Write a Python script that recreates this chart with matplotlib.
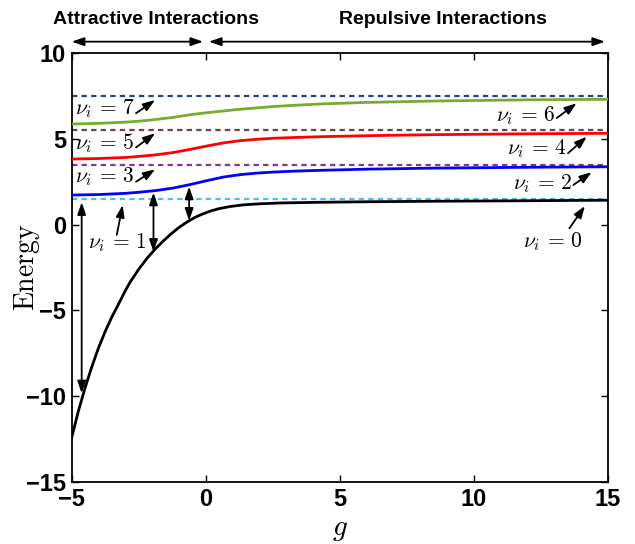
import matplotlib
matplotlib.use("Agg")
import matplotlib.pyplot as plt

plt.rcParams['mathtext.fontset'] = 'cm'

# ---- data ----
g_black = [-5.0, -4.75, -4.5, -4.25, -4.0, -3.75, -3.5, -3.25, -3.0, -2.82, -2.5, -2.2,
           -1.9, -1.6, -1.3, -1.0, -0.7, -0.4, -0.1, 0.2, 0.5, 0.9, 1.4, 2.0, 2.8,
           4.27, 6.0, 8.5, 12.0, 15.0]
E_black = [-12.4, -10.85, -9.5, -8.28, -7.18, -6.22, -5.37, -4.62, -3.85, -3.35, -2.6, -1.98,
           -1.45, -0.98, -0.55, -0.17, 0.15, 0.42, 0.63, 0.8, 0.93, 1.05, 1.15, 1.21, 1.26,
           1.30, 1.33, 1.36, 1.39, 1.42]

g_blue = [-5.0, -4.0, -3.0, -2.45, -1.83, -1.21, -0.59, 0.04, 0.66, 1.28, 1.9, 2.52, 3.4,
          4.27, 6.0, 8.5, 12.0, 15.0]
E_blue = [1.72, 1.75, 1.82, 1.89, 1.99, 2.13, 2.33, 2.56, 2.77, 2.91, 3.0, 3.06, 3.12,
          3.16, 3.23, 3.29, 3.34, 3.37]

g_red = [-5.0, -4.0, -3.0, -2.45, -1.83, -1.21, -0.59, 0.04, 0.66, 1.28, 1.9, 2.52, 3.4,
         4.27, 6.0, 8.5, 12.0, 15.0]
E_red = [3.82, 3.85, 3.91, 3.98, 4.07, 4.2, 4.38, 4.58, 4.76, 4.89, 4.97, 5.03, 5.08,
         5.12, 5.18, 5.24, 5.29, 5.32]

g_green = [-5.0, -4.0, -3.0, -2.45, -1.83, -1.21, -0.59, 0.04, 0.66, 1.28, 1.9, 2.52, 3.4,
           4.27, 6.0, 8.5, 12.0, 15.0]
E_green = [5.86, 5.9, 5.97, 6.03, 6.13, 6.25, 6.4, 6.52, 6.62, 6.72, 6.8, 6.88, 6.96,
           7.03, 7.12, 7.2, 7.27, 7.3]

levels = [1.5, 3.5, 5.5, 7.5]
level_colors = ['#4dbeee', '#7e3a8e', '#6e4545', '#26408f']

label_nu = [7, 5, 3, 1, 6, 4, 2, 0]

fig = plt.figure(figsize=(6.35, 5.44), dpi=100)
ax = fig.add_axes([0.113, 0.114, 0.844, 0.7886])

dash = (2.4, 1.9)
for lv, c in zip(levels, level_colors):
    ax.plot([-5, 15], [lv, lv], color=c, lw=1.6, dashes=dash, zorder=2)

ax.plot(g_black, E_black, color='black', lw=2.0, zorder=3)
ax.plot(g_blue, E_blue, color='#0000ff', lw=2.0, zorder=3)
ax.plot(g_red, E_red, color='#ff0000', lw=2.0, zorder=3)
ax.plot(g_green, E_green, color='#77ac30', lw=2.0, zorder=3)

ax.set_xlim(-5, 15)
ax.set_ylim(-15, 10)
ax.set_xticks([-5, 0, 5, 10, 15])
ax.set_yticks([-15, -10, -5, 0, 5, 10])
ax.tick_params(direction='in', top=True, right=True, length=5, width=1,
               labelsize=17, pad=4)
for lab in ax.get_xticklabels() + ax.get_yticklabels():
    lab.set_fontweight('bold')
    lab.set_fontfamily('Liberation Sans')
for s in ax.spines.values():
    s.set_linewidth(1.3)

ax.set_xlabel(r'$g$', fontsize=21, labelpad=3)
ax.set_ylabel(r'$\mathrm{Energy}$', fontsize=20)
ax.yaxis.set_label_coords(-0.056, 0.5)

# level labels
label_pos = [(-3.76, 6.78), (-3.76, 4.74), (-3.76, 2.78), (-3.3, -1.07),
             (11.95, 6.35), (12.35, 4.45), (12.57, 2.41), (12.94, -1.0)]
arrow_pos = [((-2.6, 6.49), (-1.89, 7.26)), ((-2.6, 4.5), (-1.89, 5.32)),
             ((-2.6, 2.5), (-1.89, 3.22)), ((-3.32, -0.6), (-3.10, 1.14)),
             ((13.1, 6.21), (13.84, 7.07)), ((13.52, 4.16), (14.22, 5.12)),
             ((13.72, 2.31), (14.4, 3.05)), ((13.57, -0.22), (14.15, 1.08))]
one_head = dict(arrowstyle='-|>,head_length=0.8,head_width=0.28', color='black',
                lw=1.3, mutation_scale=9, shrinkA=0, shrinkB=0)
two_head = dict(arrowstyle='<|-|>,head_length=0.8,head_width=0.28', color='black',
                lw=1.3, mutation_scale=9, shrinkA=0, shrinkB=0)
for nu, (x, y), (a, b) in zip(label_nu, label_pos, arrow_pos):
    ax.text(x, y, r'$\nu_i\,=\,%d$' % nu, fontsize=15.5, ha='center', va='center', zorder=5)
    ax.annotate('', xy=b, xytext=a, arrowprops=one_head, zorder=5)

# vertical gap arrows
for x, y1, y2 in [(-4.63, 1.3, -9.83), (-1.95, 1.86, -1.58), (-0.62, 2.21, 0.23)]:
    ax.annotate('', xy=(x, y2), xytext=(x, y1), arrowprops=two_head, zorder=5)

# region arrows above the axes
ax.annotate('', xy=(-0.1, 10.66), xytext=(-5.0, 10.66), arrowprops=two_head,
            annotation_clip=False)
ax.annotate('', xy=(14.9, 10.66), xytext=(0.12, 10.66), arrowprops=two_head,
            annotation_clip=False)
ax.text(-1.85, 11.95, 'Attractive Interactions', fontsize=14, fontweight='bold',
        family='Liberation Sans', ha='center', va='center', clip_on=False)
ax.text(8.84, 11.95, 'Repulsive Interactions', fontsize=14, fontweight='bold',
        family='Liberation Sans', ha='center', va='center', clip_on=False)

fig.savefig('out.png', dpi=100)
